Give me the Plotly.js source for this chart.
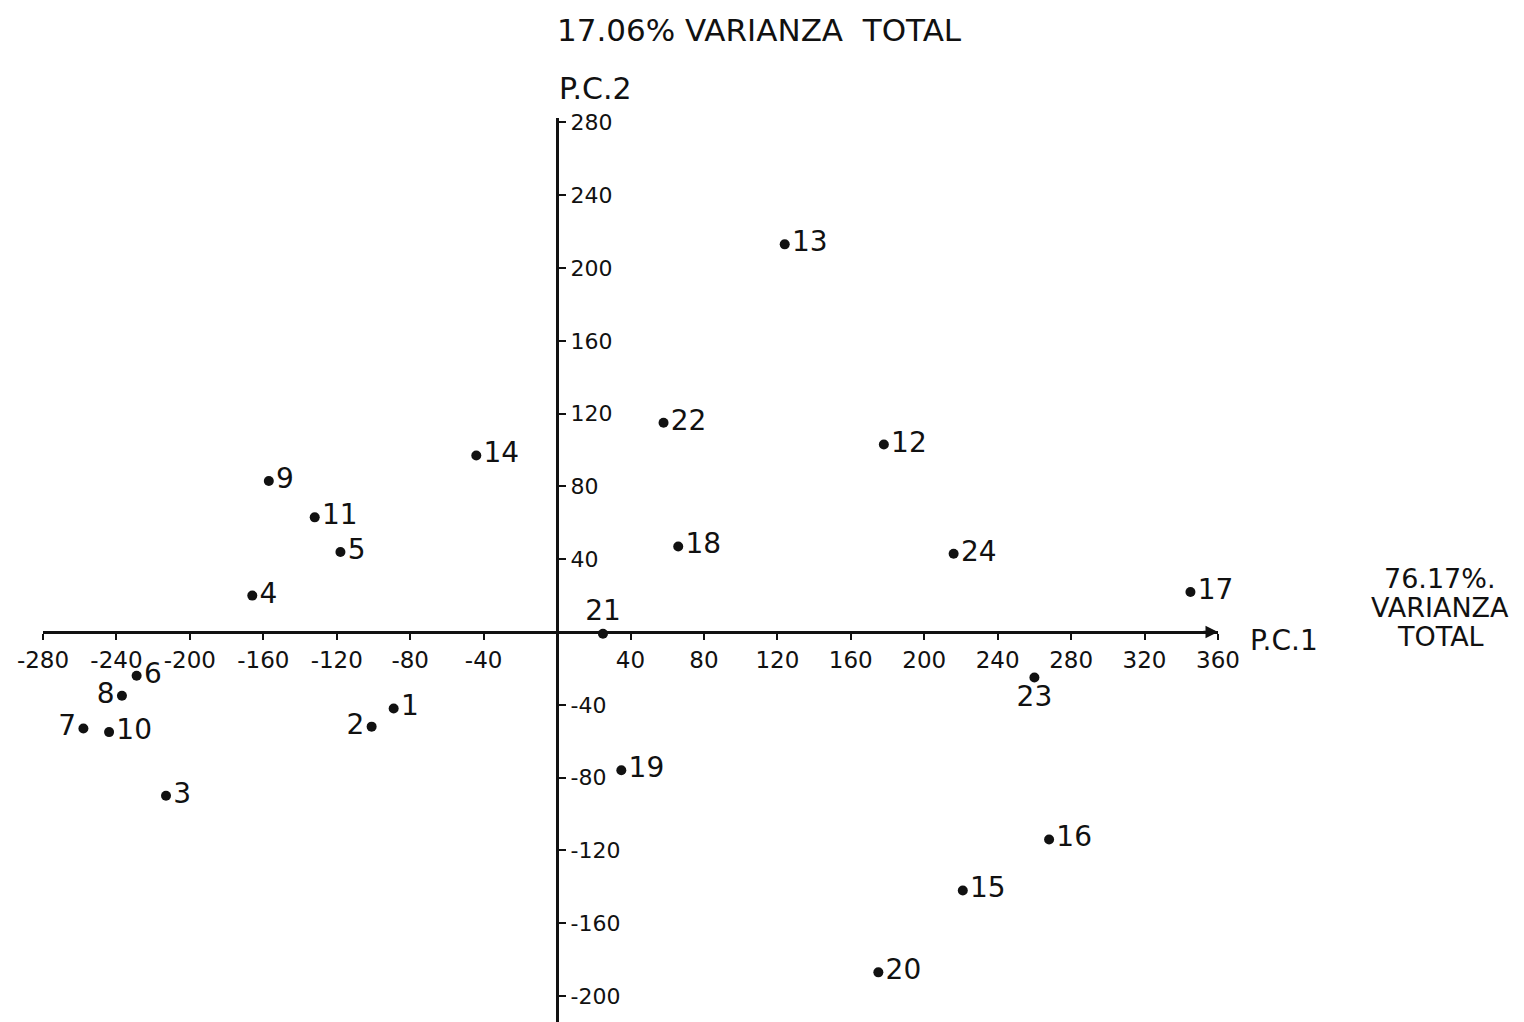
<!DOCTYPE html>
<html>
<head>
<meta charset="utf-8">
<script src="https://cdn.plot.ly/plotly-3.0.1.min.js"></script>
<style>
  html, body { margin: 0; padding: 0; background: #ffffff; }
  #chart { width: 1524px; height: 1022px; }
</style>
</head>
<body>
<div id="chart"></div>
<script>
// ---- data ----
const pointLabels = ['1','2','3','4','5','6','7','8','9','10','11','12',
                     '13','14','15','16','17','18','19','20','21','22','23','24'];
const pc1 = [-89, -101, -213, -166, -118, -229, -258, -237, -157, -244, -132, 178,
             124, -44, 221, 268, 345, 66, 35, 175, 25, 58, 260, 216];
const pc2 = [-42, -52, -90, 20, 44, -24, -53, -35, 83, -55, 63, 103,
             213, 97, -142, -114, 22, 47, -76, -187, -1, 115, -25, 43];

const xTickVals = [-280, -240, -200, -160, -120, -80, -40, 40, 80, 120, 160, 200, 240, 280, 320, 360];
const xTickText = ['-280', '-240', '-200', '-160', '-120', '-80', '-40', '40', '80', '120', '160', '200', '240', '280', '320', '360'];
const yTickVals = [-200, -160, -120, -80, -40, 40, 80, 120, 160, 200, 240, 280];
const yTickText = ['-200', '-160', '-120', '-80', '-40', '40', '80', '120', '160', '200', '240', '280'];

const titleText = '17.06% VARIANZA\u00a0 TOTAL';
const yAxisName = 'P.C.2';
const xAxisName = 'P.C.1';
const xVarianceLines = ['76.17%.', 'VARIANZA', 'TOTAL'];

// ---- label placement (style) ----
const labelPos = ['middle right', 'middle left', 'middle right', 'middle right', 'middle right', 'middle right',
                  'middle left', 'middle left', 'middle right', 'middle right', 'middle right', 'middle right',
                  'middle right', 'middle right', 'middle right', 'middle right', 'middle right', 'middle right',
                  'middle right', 'middle right', 'top center', 'middle right', 'bottom center', 'middle right'];

const W = 1524, H = 1022;
const FONT = 'DejaVu Sans, Liberation Sans, sans-serif';

// pixel geometry of the hand-drawn axes
const xLeftPx = 43, xRightPx = 1218;      // -280 .. 360
const xMin = -280, xMax = 360;
const originXPx = xLeftPx + (0 - xMin) * (xRightPx - xLeftPx) / (xMax - xMin);
const originYPx = 632, yTopPx = 118, yScale = 1.82;
const yTop = (originYPx - yTopPx) / yScale;
const yBottom = -(H - originYPx) / yScale;

const trace = {
  type: 'scatter',
  mode: 'markers+text',
  x: pc1,
  y: pc2,
  text: pointLabels,
  textposition: labelPos,
  textfont: { family: FONT, size: 28, color: '#111' },
  marker: { color: '#111', size: 10 },
  cliponaxis: false,
  hoverinfo: 'skip',
  showlegend: false
};

const varianceYs = [578, 607, 636];
const varianceAnnots = xVarianceLines.map((t, i) => ({
  text: t, xref: 'paper', yref: 'paper',
  x: 1440 / W, xanchor: 'center', y: 1 - varianceYs[i] / H, yanchor: 'middle',
  showarrow: false, font: { family: FONT, size: 27, color: '#111' }
}));

const layout = {
  width: W, height: H,
  margin: { l: 0, r: 0, t: 0, b: 0, pad: 0 },
  paper_bgcolor: '#ffffff',
  plot_bgcolor: 'rgba(0,0,0,0)',
  font: { family: FONT, color: '#111' },
  showlegend: false,
  hovermode: false,
  title: {
    text: titleText,
    font: { family: FONT, size: 31, color: '#111' },
    xref: 'paper', yref: 'container',
    x: originXPx / W, xanchor: 'left',
    y: 1 - 30 / H, yanchor: 'middle'
  },
  xaxis: {
    domain: [xLeftPx / W, xRightPx / W],
    range: [xMin, xMax],
    anchor: 'free',
    position: (H - originYPx) / H,
    side: 'bottom',
    showgrid: false, zeroline: false,
    showline: true, linecolor: '#111', linewidth: 3,
    ticks: 'outside', ticklen: 6, tickwidth: 2, tickcolor: '#111',
    tickmode: 'array', tickvals: xTickVals, ticktext: xTickText,
    tickfont: { family: FONT, size: 23, color: '#111' },
    fixedrange: true
  },
  yaxis: {
    domain: [0, 1 - yTopPx / H],
    range: [yBottom, yTop],
    anchor: 'free',
    position: originXPx / W,
    side: 'right',
    showgrid: false, zeroline: false,
    showline: true, linecolor: '#111', linewidth: 3,
    ticks: 'outside', ticklen: 7, tickwidth: 2, tickcolor: '#111',
    tickmode: 'array', tickvals: yTickVals, ticktext: yTickText,
    tickfont: { family: FONT, size: 22, color: '#111' },
    fixedrange: true
  },
  annotations: [
    { text: yAxisName, xref: 'paper', yref: 'paper',
      x: originXPx / W, xanchor: 'left', y: 1 - 88 / H, yanchor: 'middle',
      showarrow: false, font: { family: FONT, size: 30, color: '#111' } },
    { text: xAxisName, xref: 'paper', yref: 'paper',
      x: 1248 / W, xanchor: 'left', y: 1 - 640 / H, yanchor: 'middle',
      showarrow: false, font: { family: FONT, size: 28, color: '#111' } },
    ...varianceAnnots,
    { text: '', xref: 'x', yref: 'y', x: xMax, y: 0,
      ax: -16, ay: 0, showarrow: true, arrowhead: 2, arrowsize: 1,
      arrowwidth: 2.5, arrowcolor: '#111' }
  ]
};

Plotly.newPlot('chart', [trace], layout, { staticPlot: true, displayModeBar: false });
</script>
</body>
</html>
